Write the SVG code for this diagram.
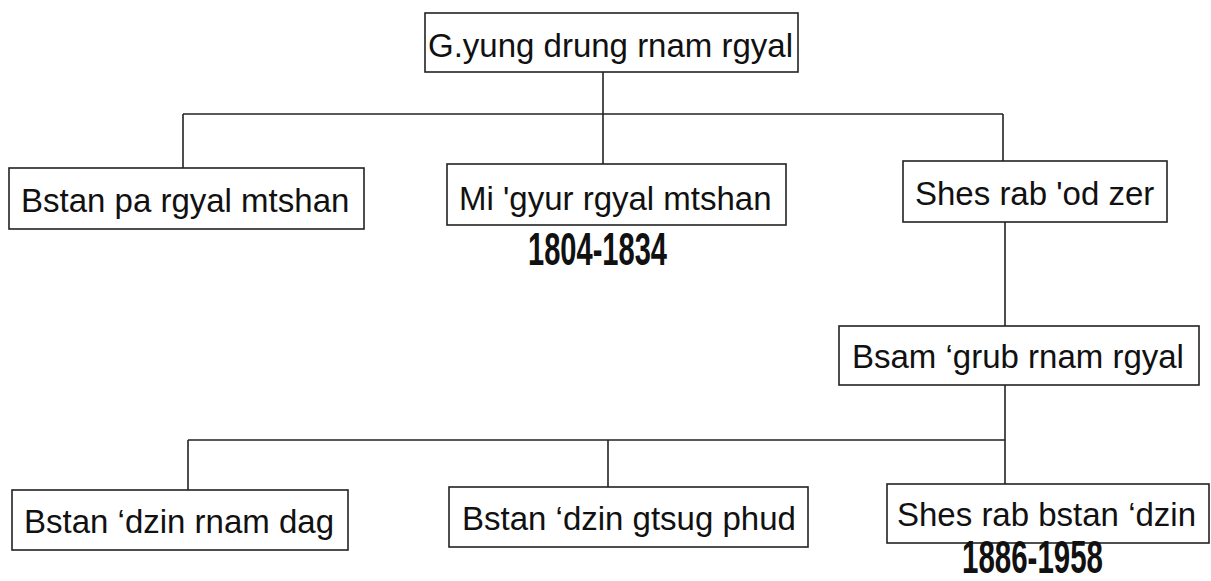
<svg xmlns="http://www.w3.org/2000/svg" width="1211" height="581" viewBox="0 0 1211 581">
<style>
.box{fill:#fff;stroke:#222;stroke-width:1.6}
.lbl{font-family:"Liberation Sans",Arial,sans-serif;font-size:33px;fill:#111}
.date{font-family:"Liberation Sans Narrow","Liberation Sans",Arial,sans-serif;font-weight:bold;font-size:46px;fill:#111}
.conn line{stroke:#222;stroke-width:1.6}
</style>
<rect width="1211" height="581" fill="#fff"/>
<g id="connectors" class="conn">
<line x1="603" y1="72" x2="603" y2="164"/>
<line x1="183" y1="114" x2="1003" y2="114"/>
<line x1="183" y1="114" x2="183" y2="168"/>
<line x1="1003" y1="114" x2="1003" y2="161"/>
<line x1="1005" y1="222" x2="1005" y2="326"/>
<line x1="1005" y1="385" x2="1005" y2="484"/>
<line x1="188" y1="440" x2="1005" y2="440"/>
<line x1="188" y1="440" x2="188" y2="490"/>
<line x1="608" y1="440" x2="608" y2="487"/>
</g>
<g id="n0">
<rect class="box" x="425" y="13" width="373" height="59"/>
<text class="lbl" x="428" y="57">G.yung drung rnam rgyal</text>
</g>
<g id="n1">
<rect class="box" x="9" y="168" width="355" height="61"/>
<text class="lbl" x="21" y="212">Bstan pa rgyal mtshan</text>
</g>
<g id="n2">
<rect class="box" x="447" y="164" width="339" height="61"/>
<text class="lbl" x="459" y="210">Mi 'gyur rgyal mtshan</text>
<text class="date" x="528" y="265" textLength="139" lengthAdjust="spacingAndGlyphs">1804-1834</text>
</g>
<g id="n3">
<rect class="box" x="903" y="161" width="264" height="61"/>
<text class="lbl" x="915" y="205">Shes rab 'od zer</text>
</g>
<g id="n4">
<rect class="box" x="839" y="326" width="360" height="59"/>
<text class="lbl" x="852" y="368">Bsam ‘grub rnam rgyal</text>
</g>
<g id="n5">
<rect class="box" x="12" y="490" width="336" height="60"/>
<text class="lbl" x="24" y="533">Bstan ‘dzin rnam dag</text>
</g>
<g id="n6">
<rect class="box" x="449" y="487" width="359" height="60"/>
<text class="lbl" x="462" y="530">Bstan ‘dzin gtsug phud</text>
</g>
<g id="n7">
<rect class="box" x="887" y="484" width="322" height="59"/>
<text class="lbl" x="897" y="526">Shes rab bstan ‘dzin</text>
<text class="date" x="962" y="573" font-size="37" textLength="141" lengthAdjust="spacingAndGlyphs">1886-1958</text>
</g>
</svg>
